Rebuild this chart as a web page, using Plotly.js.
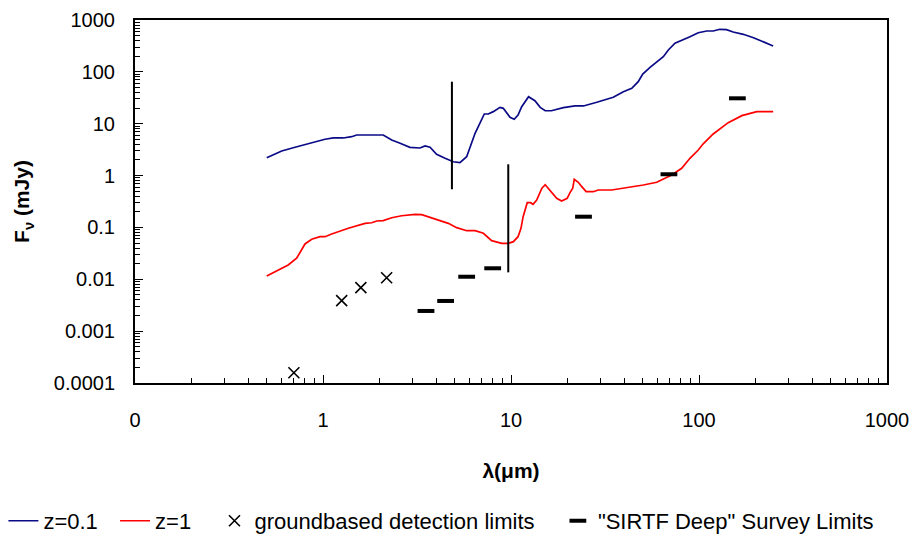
<!DOCTYPE html>
<html>
<head>
<meta charset="utf-8">
<script src="https://cdn.plot.ly/plotly-3.0.1.min.js"></script>
<style>html,body{margin:0;padding:0;background:#fff;}#chart{width:911px;height:540px;}</style>
</head>
<body>
<div id="chart"></div>
<script>
// z = 0.1 model SED (wavelength in micron, flux in mJy)
const lamZ01 = [0.502,0.603,0.710,0.853,0.906,1.025,1.134,1.282,1.42,1.51,2.09,2.32,2.57,2.90,3.28,3.49,3.71,4.02,4.46,4.93,5.35,5.81,6.44,7.21,7.57,8.05,8.74,9.10,9.88,10.4,10.9,11.4,12.4,13.4,14.3,15.2,16.4,19.0,21.9,24.3,28.6,35.0,39.6,43.9,47.5,50.2,54.9,64.6,68.7,74.5,89.5,99.1,110,119,129,140,152,172,195,220,248];
const fluxZ01 = [2.21,2.98,3.51,4.19,4.31,5.01,5.31,5.31,5.62,6.06,6.06,4.85,4.19,3.51,3.40,3.72,3.51,2.57,2.15,1.85,1.77,2.31,6.53,15.4,15.4,17.1,20.7,19.8,13.3,12.2,14.7,21.3,33.2,27.8,20.7,17.8,17.8,20.4,22.0,22.0,25.9,32.3,41.4,48.2,64.6,90.9,122,196,264,356,476,569,614,614,662,651,587,530,456,382,315];

// z = 1 model SED
const lamZ1 = [0.502,0.568,0.653,0.724,0.771,0.802,0.871,0.964,1.025,1.112,1.364,1.673,1.816,1.93,2.09,2.32,2.62,2.84,3.09,3.35,3.94,4.64,5.14,5.81,6.44,7.13,7.89,8.93,9.68,10.3,10.9,11.3,11.6,12.0,12.2,12.7,13.1,13.7,14.6,15.2,16.1,17.5,18.6,19.9,20.6,21.3,21.7,22.8,23.8,25.1,27.4,29.1,34.3,43.0,50.6,59.6,64.6,71.6,80.9,89.5,99.1,105,119,143,169,203,248];
const fluxZ1 = [0.0116,0.0147,0.0189,0.0254,0.0379,0.0480,0.0591,0.0663,0.0663,0.0747,0.0962,0.120,0.123,0.133,0.135,0.154,0.168,0.171,0.179,0.176,0.146,0.120,0.0989,0.0865,0.0865,0.0771,0.0555,0.0494,0.0494,0.0531,0.0663,0.0962,0.161,0.251,0.300,0.300,0.279,0.338,0.569,0.667,0.527,0.365,0.324,0.365,0.468,0.569,0.848,0.742,0.611,0.489,0.489,0.527,0.527,0.594,0.658,0.742,0.848,1.03,1.38,2.15,3.11,4.06,6.34,10.5,14.3,17.1,17.1];

// groundbased detection limits
const lamGround = [0.70,1.257,1.59,2.18];
const fluxGround = [0.000158,0.00387,0.00689,0.0107];

// "SIRTF Deep" survey limits
const lamSirtf = [3.53,4.49,5.81,7.99,24.3,69.2,160];
const fluxSirtf = [0.00245,0.00382,0.0112,0.0163,0.161,1.06,30.9];

// vertical bars (wavelength, low, high)
const barLam = [4.85,9.67];
const barLow = [0.544,0.0136];
const barHigh = [64.6,1.65];

// axis ticks
const xTickVals = [0.1,1,10,100,1000];
const xTickText = ["0","1","10","100","1000"];
const yTickVals = [1000,100,10,1,0.1,0.01,0.001,0.0001];
const yTickText = ["1000","100","10","1","0.1","0.01","0.001","0.0001"];

const FONT = "Liberation Sans, Arial, sans-serif";
const PAD2 = '\u00a0\u00a0', PAD3 = '\u00a0\u00a0\u00a0';

// build bar traces from arrays
const barX = [], barY = [];
for (let i = 0; i < barLam.length; i++) {
  barX.push(barLam[i], barLam[i], null);
  barY.push(barLow[i], barHigh[i], null);
}

const traces = [
  {x: lamZ01, y: fluxZ01, mode: 'lines', name: 'z=0.1' + PAD2, line: {color: '#0a0a86', width: 1.7}},
  {x: lamZ1, y: fluxZ1, mode: 'lines', name: 'z=1' + PAD3, line: {color: '#ff0000', width: 1.7}},
  {x: lamGround, y: fluxGround, mode: 'markers', name: 'groundbased detection limits' + PAD3,
   marker: {symbol: 'x-thin', size: 11, line: {color: '#000', width: 1.6}, color: '#000'}},
  {x: lamSirtf, y: fluxSirtf, mode: 'markers', name: '"SIRTF Deep" Survey Limits',
   marker: {symbol: 'line-ew', size: 12, line: {color: '#000', width: 4}, color: '#000'}},
  {x: barX, y: barY, mode: 'lines', showlegend: false, line: {color: '#000', width: 2}, connectgaps: false}
];

const layout = {
  width: 911, height: 540,
  margin: {l: 135, r: 24, t: 20, b: 157, autoexpand: false},
  paper_bgcolor: '#fff', plot_bgcolor: '#fff',
  font: {family: FONT, size: 20, color: '#000'},
  showlegend: true,
  legend: {orientation: 'h', x: -0.175, xanchor: 'left', y: -0.38, yanchor: 'middle',
           font: {family: FONT, size: 22, color: '#000'}, traceorder: 'normal', itemwidth: 30},
  xaxis: {
    type: 'log', range: [-1, 3], showgrid: false, zeroline: false,
    showline: true, linecolor: '#000', linewidth: 2, mirror: true,
    ticks: 'inside', ticklen: 8, tickwidth: 1, tickcolor: '#000',
    tickmode: 'array', tickvals: xTickVals, ticktext: xTickText,
    ticklabelstandoff: 18,
    minor: {ticks: 'inside', ticklen: 5, tickwidth: 1, tickcolor: '#000', dtick: 'D1', showgrid: false},
    title: {text: '<b>λ(μm)</b>', font: {family: FONT, size: 21}, standoff: 33}
  },
  yaxis: {
    type: 'log', range: [-4, 3], showgrid: false, zeroline: false,
    showline: true, linecolor: '#000', linewidth: 2, mirror: true,
    ticks: 'inside', ticklen: 8, tickwidth: 1, tickcolor: '#000',
    tickmode: 'array', tickvals: yTickVals, ticktext: yTickText,
    ticklabelstandoff: 14,
    minor: {ticks: 'inside', ticklen: 5, tickwidth: 1, tickcolor: '#000', dtick: 'D1', showgrid: false},
    title: {text: '<b>F<sub>ν</sub> (mJy)</b>', font: {family: FONT, size: 21}, standoff: 18}
  }
};

Plotly.newPlot('chart', traces, layout, {displayModeBar: false, staticPlot: true});
</script>
</body>
</html>
